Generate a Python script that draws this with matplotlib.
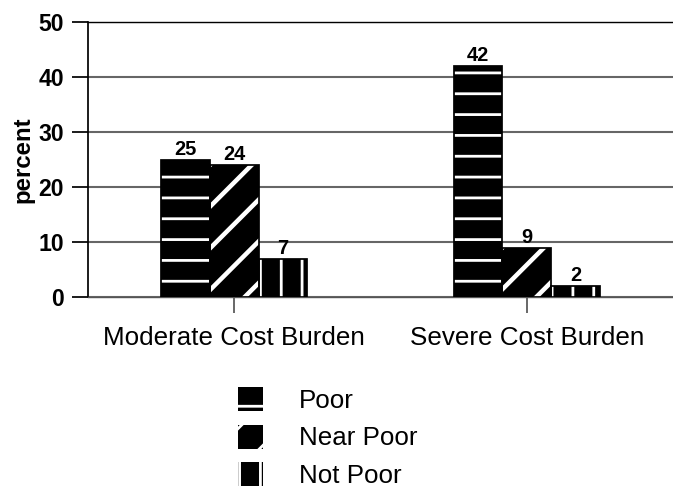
import matplotlib
matplotlib.use("Agg")
import matplotlib.pyplot as plt
from matplotlib.patches import Patch
import numpy as np

categories = ["Moderate Cost Burden", "Severe Cost Burden"]
series = ["Poor", "Near Poor", "Not Poor"]
poor = [25, 42]
near_poor = [24, 9]
not_poor = [7, 2]
yticks = [0, 10, 20, 30, 40, 50]

plt.rcParams['font.family'] = ['Liberation Sans', 'DejaVu Sans']
plt.rcParams['hatch.linewidth'] = 1.6

DPI = 125
PT = 72.0 / DPI  # points per pixel

fig = plt.figure(figsize=(673 / DPI, 488 / DPI), dpi=DPI)
ax = fig.add_axes([88 / 673, 1 - 297 / 488, 1 - 88 / 673, (297 - 22) / 488])

x = np.arange(len(categories))
w = 1 / 6
hatches = ['-', '/', '|']
hatch_lw = [1.6, 2.6, 1.6]
data = [poor, near_poor, not_poor]

for i, (vals, h, hl) in enumerate(zip(data, hatches, hatch_lw)):
    pos = x + (i - 1) * w
    with plt.rc_context({'hatch.linewidth': hl}):
        ax.bar(pos, vals, w, color='black', edgecolor='white', hatch=h, linewidth=0, zorder=3)
    ax.bar(pos, vals, w, fill=False, edgecolor='black', linewidth=1, zorder=4)
    for px, v in zip(pos, vals):
        ax.text(px, v + 0.15, f"{v}", ha='center', va='bottom', fontsize=20 * PT,
                fontweight='bold', zorder=5)

handles = [Patch(facecolor='black', edgecolor='white', hatch=h, linewidth=0) for h in hatches]

ax.set_xlim(-0.5, 1.5)
ax.set_ylim(0, 50)
ax.set_yticks(yticks)
ax.set_yticklabels([str(t) for t in yticks], fontsize=23 * PT, fontweight='bold')
ax.set_xticks(x)
ax.set_xticklabels(categories, fontsize=26 * PT)
ax.tick_params(axis='y', length=16 * PT, width=1, pad=8 * PT)
ax.tick_params(axis='x', length=16 * PT, width=1, pad=13 * PT, color='#555555')
ax.yaxis.grid(True, color='#666666', linewidth=1.2, zorder=0)
ax.set_axisbelow(True)
ax.spines['right'].set_visible(False)
ax.spines['top'].set_color('black')
ax.spines['bottom'].set_color('#555555')
ax.spines['left'].set_linewidth(1)
ax.set_ylabel("percent", fontsize=24 * PT, fontweight='bold')
ax.yaxis.set_label_coords((34 - 88) / 585, 0.5)

leg = fig.legend(handles, series, loc='upper left', bbox_to_anchor=(217 / 673, 1 - 366 / 488),
                 frameon=False, fontsize=26 * PT, handlelength=25 / 26, handleheight=27 / 26,
                 handletextpad=36 / 26, labelspacing=0.46, borderpad=0.3)

fig.savefig("out.png", dpi=DPI)
